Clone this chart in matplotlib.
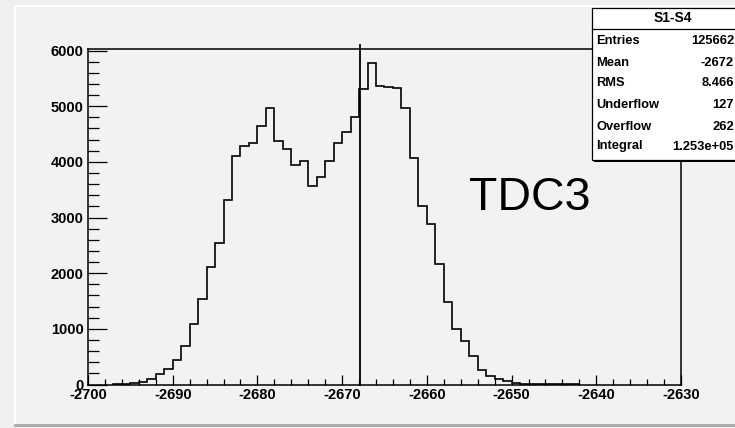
import numpy as np
import matplotlib
matplotlib.use("Agg")
import matplotlib.pyplot as plt
from matplotlib.patches import Rectangle
from matplotlib.lines import Line2D
from matplotlib.ticker import MultipleLocator

plt.rcParams["axes.unicode_minus"] = False

# ==========================================================
# Histogram S1-S4 (TDC3), 1 unit bins
# ==========================================================

first_edge = -2697
bin_width = 1
counts = [14, 16, 20, 48, 90, 180, 283, 445, 697, 1088,
          1529, 2110, 2546, 3319, 4097, 4276, 4336, 4647, 4976, 4368,
          4233, 3949, 4009, 3566, 3736, 4009, 4338, 4535, 4814, 5305,
          5780, 5364, 5340, 5330, 4975, 4066, 3212, 2878, 2162, 1491,
          992, 773, 504, 258, 148, 92, 62, 18, 15, 13,
          12, 12, 10, 10, 9]

cut_x = -2667.9
cut_top = 6100

stat_names = ["Entries", "Mean", "RMS", "Underflow", "Overflow", "Integral"]
stat_values = ["125662", "-2672", "8.466", "127", "262", "1.253e+05"]

edges = first_edge + bin_width * np.arange(len(counts) + 1)

# ==========================================================
# Figure / pad
# ==========================================================

W, H = 735, 428
fig = plt.figure(figsize=(W / 100, H / 100), dpi=100)
fig.patch.set_facecolor("#efefef")

def fx(px):
    return px / W

def fy(py):
    return 1 - py / H

# pad with bevelled border
fig.add_artist(Rectangle((fx(16), fy(424)), fx(W) - fx(16), fy(6) - fy(424),
                         transform=fig.transFigure, facecolor="#f2f2f2",
                         edgecolor="none", zorder=0))
fig.add_artist(Line2D([fx(15.5), fx(15.5)], [fy(5.5), fy(424)],
                      transform=fig.transFigure, color="white", lw=1.5))
fig.add_artist(Line2D([fx(15.5), fx(W)], [fy(5.5), fy(5.5)],
                      transform=fig.transFigure, color="white", lw=1.5))
fig.add_artist(Line2D([fx(15.5), fx(W)], [fy(425), fy(425)],
                      transform=fig.transFigure, color="#a8a8a8", lw=2))

ax = fig.add_axes([fx(88), fy(384.5), fx(681) - fx(88), fy(48.5) - fy(384.5)])
ax.set_facecolor("#f2f2f2")

ax.stairs(counts, edges, color="black", lw=1.2, baseline=0)
ax.plot([cut_x, cut_x], [0, cut_top], color="black", lw=1.3, clip_on=False)

ax.set_xlim(-2700, -2630)
ax.set_ylim(0, 6036)

ax.xaxis.set_major_locator(MultipleLocator(10))
ax.xaxis.set_minor_locator(MultipleLocator(2))
ax.yaxis.set_major_locator(MultipleLocator(1000))
ax.yaxis.set_minor_locator(MultipleLocator(200))

ax.tick_params(axis="x", which="major", direction="in", length=7.2, width=0.9,
               pad=2.5, labelsize=10.5)
ax.tick_params(axis="x", which="minor", direction="in", length=4, width=0.9)
ax.tick_params(axis="y", which="major", direction="in", length=13.7, width=0.9,
               pad=3, labelsize=10.5)
ax.tick_params(axis="y", which="minor", direction="in", length=7.7, width=0.9)

for lab in ax.get_xticklabels() + ax.get_yticklabels():
    lab.set_fontweight("bold")
    lab.set_family("Liberation Sans")

for s in ax.spines.values():
    s.set_linewidth(1.1)

# ==========================================================
# Stats box
# ==========================================================

box_l, box_t, box_b, box_r = 591.5, 7.5, 160, 756
fig.add_artist(Rectangle((fx(box_l + 2), fy(box_b + 2)), fx(box_r) - fx(box_l),
                         fy(box_t) - fy(box_b), transform=fig.transFigure,
                         facecolor="black", edgecolor="none", zorder=5))
fig.add_artist(Rectangle((fx(box_l), fy(box_b)), fx(box_r) - fx(box_l),
                         fy(box_t) - fy(box_b), transform=fig.transFigure,
                         facecolor="white", edgecolor="black", lw=0.9, zorder=6))
fig.add_artist(Line2D([fx(box_l), fx(box_r)], [fy(28.5), fy(28.5)],
                      transform=fig.transFigure, color="black", lw=0.9, zorder=7))
fig.text(fx(673), fy(18), "S1-S4", ha="center", va="center", fontsize=10,
         fontweight="bold", family="Liberation Sans", zorder=8)

row_y = [41.5, 62.5, 83.5, 105.5, 126.5, 146.5]
for name, val, y in zip(stat_names, stat_values, row_y):
    fig.text(fx(596.5), fy(y), name, ha="left", va="center", fontsize=9.3,
             fontweight="bold", family="Liberation Sans", zorder=8)
    fig.text(fx(734), fy(y), val, ha="right", va="center", fontsize=9.3,
             fontweight="bold", family="Liberation Sans", zorder=8)

# ==========================================================
# Label
# ==========================================================

fig.text(fx(469), fy(210), "TDC3", ha="left", va="baseline", fontsize=33.5,
         family="Liberation Sans")

fig.savefig("out.png", dpi=100, facecolor=fig.get_facecolor())
